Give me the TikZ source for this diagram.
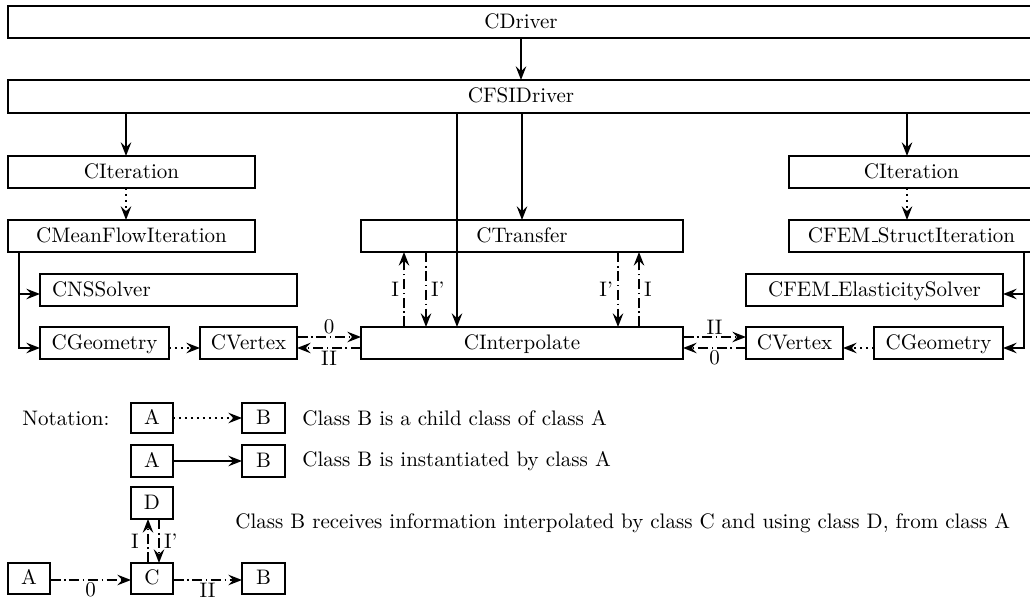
\documentclass[tikz,border=0pt]{standalone}
\usetikzlibrary{arrows.meta,calc}
\newlength\pxu
\setlength\pxu{0.4762pt}
% short low rule used as underscore in class names
\newcommand\usc{\leavevmode\kern.06em\vbox{\hrule width.3em height .4pt}}
% class box from its two corners: [options]{name}{x1}{y1}{x2}{y2}{text}
\newcommand\classbox[7][]{%
  \node[cls,#1,minimum width={(#5-#3)*\pxu},minimum height={(#6-#4)*\pxu}]
    (#2) at ({(#3+#5)/2},{(#4+#6)/2}) {#7};}
\tikzset{
  cls/.style={draw, line width=0.85pt, inner sep=0pt, outer sep=0pt,
              text height=7.5pt, text depth=1.7pt},
  inst/.style={line width=0.85pt, -{Stealth[length=6.5pt,width=5pt,inset=2.3pt]}},
  child/.style={inst, dotted},
  info/.style={inst, dash pattern=on 5pt off 1.6pt on 0.8pt off 1.6pt},
  lbl/.style={inner sep=2pt},
  note/.style={inner sep=0pt, anchor=west},
}
\begin{document}
\begin{tikzpicture}[x=0.4762pt, y=-0.4762pt]
\useasboundingbox (0,0) rectangle (1030,601);
\clip (0,0) rectangle (1030,601);

% driver level
\classbox{drv}{8}{6}{1034}{38}{CDriver}
\classbox{fsi}{8}{80}{1034}{113}{CFSIDriver}

% fluid side
\classbox{itL}{8}{156}{255}{188}{CIteration}
\classbox{mfi}{8}{220}{255}{252}{CMeanFlowIteration}
\classbox[text width=110.9pt, align=left]{nss}{40}{274}{297}{306}{CNSSolver}
\classbox{geoL}{40}{327}{169}{359}{CGeometry}
\classbox{vtxL}{200}{327}{297}{359}{CVertex}

% transfer and interpolation
\classbox{trans}{361}{220}{683}{252}{CTransfer}
\classbox{interp}{361}{327}{683}{359}{CInterpolate}

% structural side
\classbox{itR}{789}{156}{1034}{188}{CIteration}
\classbox{fem}{789}{220}{1034}{252}{CFEM\usc StructIteration}
\classbox{ela}{746}{274}{1003}{306}{CFEM\usc ElasticitySolver}
\classbox{geoR}{874}{327}{1003}{359}{CGeometry}
\classbox{vtxR}{746}{327}{843}{359}{CVertex}

% instantiation from the drivers
\draw[inst] (drv.south) -- (fsi.north);
\draw[inst] ($(fsi.south west)+(118,0)$) -- ($(itL.north west)+(118,0)$);
\draw[inst] ($(fsi.south west)+(449,0)$) -- ($(interp.north west)+(96,0)$);
\draw[inst] ($(fsi.south west)+(514,0)$) -- ($(trans.north west)+(161,0)$);
\draw[inst] ($(fsi.south west)+(899,0)$) -- ($(itR.north west)+(118,0)$);

% inheritance
\draw[child] ($(itL.south west)+(118,0)$) -- ($(mfi.north west)+(118,0)$);
\draw[child] ($(itR.south west)+(118,0)$) -- ($(fem.north west)+(118,0)$);
\draw[child] ($(geoL.east)+(0,5)$) -- ($(vtxL.west)+(0,5)$);
\draw[child] ($(geoR.west)+(0,5)$) -- ($(vtxR.east)+(0,5)$);

% solvers and geometry owned by the iterations
\draw[inst] ($(mfi.south west)+(11,0)$) |- ($(nss.west)+(0,4)$);
\draw[inst] ($(mfi.south west)+(11,0)$) |- ($(geoL.west)+(0,5)$);
\draw[inst] ($(fem.south west)+(235,0)$) |- ($(ela.east)+(0,4)$);
\draw[inst] ($(fem.south west)+(235,0)$) |- ($(geoR.east)+(0,5)$);

% information exchange with the interpolator
\draw[info] ($(vtxL.east)+(0,-6)$) -- node[lbl, above, inner sep=1pt] {0} ($(interp.west)+(0,-6)$);
\draw[info] ($(interp.west)+(0,5)$) -- node[lbl, below, inner sep=1pt] {II} ($(vtxL.east)+(0,5)$);
\draw[info] ($(interp.east)+(0,-6)$) -- node[lbl, above, inner sep=1pt] {II} ($(vtxR.west)+(0,-6)$);
\draw[info] ($(vtxR.west)+(0,5)$) -- node[lbl, below, inner sep=1pt] {0} ($(interp.east)+(0,5)$);

\draw[info] ($(interp.north west)+(43,0)$) -- node[lbl, left] {I} ($(trans.south west)+(43,0)$);
\draw[info] ($(trans.south west)+(65,0)$) -- node[lbl, right] {I'} ($(interp.north west)+(65,0)$);
\draw[info] ($(trans.south west)+(257,0)$) -- node[lbl, left] {I'} ($(interp.north west)+(257,0)$);
\draw[info] ($(interp.north west)+(278,0)$) -- node[lbl, right] {I} ($(trans.south west)+(278,0)$);

% notation
\node[note] (notation) at (22,418) {Notation:};
\classbox{nA1}{131}{403}{173}{433}{A}
\classbox{nB1}{242}{403}{285}{433}{B}
\draw[child] (nA1) -- (nB1);
\node[note] (t1) at (302,418) {Class B is a child class of class A};

\classbox{nA2}{131}{445}{173}{477}{A}
\classbox{nB2}{242}{445}{285}{477}{B}
\draw[inst] (nA2) -- (nB2);
\node[note] (t2) at (302,461) {Class B is instantiated by class A};

\classbox{nD}{131}{487}{173}{519}{D}
\classbox{nC}{131}{563}{173}{594}{C}
\classbox{nA3}{8}{563}{50}{594}{A}
\classbox{nB3}{242}{563}{285}{594}{B}
\draw[info] ($(nA3.east)+(0,1.5)$) -- node[lbl, below, inner sep=1pt] {0} ($(nC.west)+(0,1.5)$);
\draw[info] ($(nC.east)+(0,1.5)$) -- node[lbl, below, inner sep=1pt] {II} ($(nB3.west)+(0,1.5)$);
\draw[info] ($(nC.north west)+(17,0)$) -- node[lbl, left, inner sep=4pt] {I} ($(nD.south west)+(17,0)$);
\draw[info] ($(nD.south west)+(28,0)$) -- node[lbl, right] {I'} ($(nC.north west)+(28,0)$);
\node[note] (t3) at (235,523) {Class B receives information interpolated by class C and using class D, from class A};
\end{tikzpicture}
\end{document}
